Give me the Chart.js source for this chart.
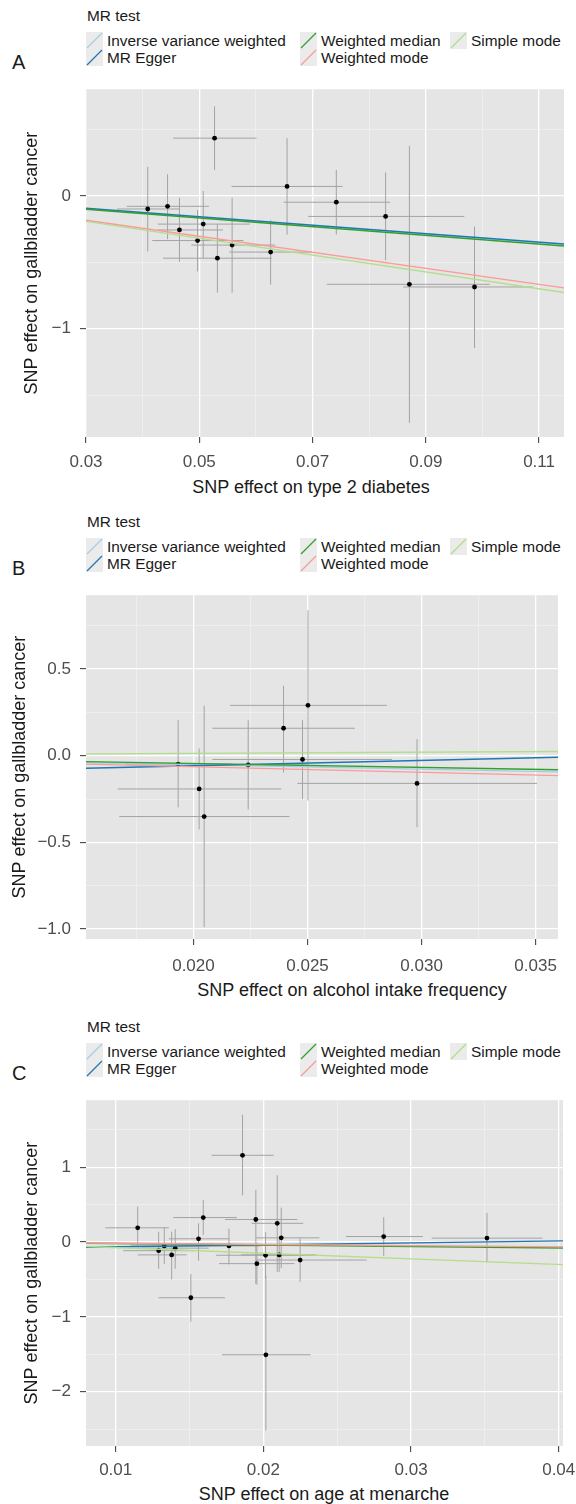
<!DOCTYPE html>
<html>
<head>
<meta charset="utf-8">
<script src="https://cdn.jsdelivr.net/npm/chart.js@4.4.1/dist/chart.umd.min.js"></script>
<style>
  body { margin: 0; background: #fff; width: 576px; height: 1504px; position: relative; overflow: hidden;
         font-family: "Liberation Sans", Arial, sans-serif; color: #1a1a1a; }
  .letter { position: absolute; left: 12px; font-size: 20px; line-height: 20px; }
  .lgtitle { position: absolute; left: 87px; font-size: 15.4px; line-height: 18px; }
  .item { position: absolute; font-size: 15.4px; line-height: 17px; white-space: nowrap; }
  .item svg { position: absolute; left: 0; top: 0; }
  .item span { position: absolute; left: 21px; top: 0; }
  .xtitle { position: absolute; width: 400px; text-align: center; font-size: 18px; line-height: 22px; white-space: nowrap; }
  canvas { position: absolute; left: 0; }
</style>
</head>
<body>
<div id="root"></div>
<script>
// MR methods, shared by the three panels
const methods = ["Inverse variance weighted", "MR Egger", "Weighted median", "Weighted mode", "Simple mode"];
const methodColors = ["#a6cee3", "#1f78b4", "#33a02c", "#fb9a99", "#b2df8a"];

// Panel A: type 2 diabetes
const aSnpX = [0.0409, 0.0444, 0.0465, 0.0497, 0.0507, 0.0527, 0.0532, 0.0558, 0.0626, 0.0655, 0.0742, 0.0829, 0.0871, 0.0986];
const aSnpY = [-0.097, -0.077, -0.255, -0.335, -0.211, 0.437, -0.468, -0.369, -0.422, 0.073, -0.046, -0.153, -0.665, -0.685];
const aXLo = [0.0355, 0.0372, 0.0427, 0.0417, 0.0427, 0.0454, 0.0436, 0.0486, 0.0553, 0.0557, 0.0649, 0.0692, 0.0725, 0.0860];
const aXHi = [0.0465, 0.0517, 0.0542, 0.0578, 0.0589, 0.0601, 0.0628, 0.0634, 0.0699, 0.0753, 0.0837, 0.0968, 0.1013, 0.1089];
const aYLo = [-0.417, -0.325, -0.495, -0.568, -0.470, 0.197, -0.728, -0.728, -0.667, -0.291, -0.289, -0.483, -1.709, -1.146];
const aYHi = [0.221, 0.165, -0.012, -0.104, 0.039, 0.677, -0.211, -0.012, -0.182, 0.437, 0.197, 0.178, 0.379, -0.230];
const aSlopes = [-3.2, -3.2, -3.29, -6.05, -6.35];
const aIntercepts = [0, 0.005, 0, 0, 0];
const aXTicks = [0.03, 0.05, 0.07, 0.09, 0.11];
const aXTickLabels = ["0.03", "0.05", "0.07", "0.09", "0.11"];
const aXMinor = [0.04, 0.06, 0.08, 0.10];
const aYTicks = [0, -1];
const aYTickLabels = ["0", "\u22121"];
const aYMinor = [0.5, -0.5, -1.5];

// Panel B: alcohol intake frequency
const bSnpX = [0.01933, 0.02025, 0.02047, 0.0224, 0.02395, 0.02478, 0.02502, 0.0298];
const bSnpY = [-0.0485, -0.192, -0.351, -0.054, 0.158, -0.022, 0.29, -0.16];
const bXLo = [0.0170, 0.01668, 0.01675, 0.0198, 0.02083, 0.02083, 0.0216, 0.02456];
const bXHi = [0.0217, 0.02385, 0.02421, 0.0250, 0.02708, 0.02871, 0.02848, 0.03506];
const bYLo = [-0.298, -0.426, -0.989, -0.31, -0.097, -0.251, -0.259, -0.412];
const bYHi = [0.204, 0.042, 0.288, 0.204, 0.403, 0.204, 0.838, 0.095];
const bSlopes = [-2.6, 3.04, -2.27, -3.2, 0.67];
const bIntercepts = [0, -0.119, 0, 0, 0];
const bXTicks = [0.020, 0.025, 0.030, 0.035];
const bXTickLabels = ["0.020", "0.025", "0.030", "0.035"];
const bXMinor = [0.0175, 0.0225, 0.0275, 0.0325];
const bYTicks = [0.5, 0, -0.5, -1];
const bYTickLabels = ["0.5", "0.0", "\u22120.5", "\u22121.0"];
const bYMinor = [0.75, 0.25, -0.25, -0.75];

// Panel C: age at menarche
const cSnpX = [0.01149, 0.01291, 0.01329, 0.01379, 0.01403, 0.01509, 0.01561, 0.01593, 0.01767, 0.01859,
               0.01949, 0.01956, 0.02015, 0.02017, 0.02094, 0.02107, 0.02121, 0.02249, 0.02815, 0.03514];
const cSnpY = [0.19, -0.116, -0.052, -0.172, -0.082, -0.745, 0.043, 0.327, -0.052, 1.159,
               0.301, -0.289, -0.177, -1.507, 0.25, -0.172, 0.056, -0.241, 0.073, 0.052];
const cXLo = [0.0093, 0.0105, 0.0110, 0.0115, 0.0118, 0.0129, 0.0136, 0.0139, 0.0155, 0.0165,
              0.0174, 0.0170, 0.0168, 0.0172, 0.0192, 0.0185, 0.0195, 0.0195, 0.0256, 0.0314];
const cXHi = [0.0136, 0.0153, 0.0156, 0.0148, 0.0163, 0.0174, 0.0177, 0.0182, 0.0198, 0.0207,
              0.0223, 0.0221, 0.0235, 0.0232, 0.0227, 0.0236, 0.0238, 0.0270, 0.0308, 0.0389];
const cYLo = [-0.043, -0.358, -0.293, -0.5, -0.358, -1.063, -0.25, 0.095, -0.3, 0.624,
              -0.56, -0.568, -0.49, -2.519, -0.4, -0.40, -0.35, -0.53, -0.185, -0.271];
const cYHi = [0.474, 0.138, 0.194, 0.138, 0.172, -0.43, 0.25, 0.56, 0.18, 1.7,
              0.698, -0.009, 0.13, -0.452, 0.892, 0.06, 0.46, 0.05, 0.332, 0.388];
const cSlopes = [-1.7, 2.6, -2.0, -1.6, -7.5];
const cIntercepts = [0, -0.09, 0, 0, 0];
const cXTicks = [0.01, 0.02, 0.03, 0.04];
const cXTickLabels = ["0.01", "0.02", "0.03", "0.04"];
const cXMinor = [0.015, 0.025, 0.035];
const cYTicks = [1, 0, -1, -2];
const cYTickLabels = ["1", "0", "\u22121", "\u22122"];
const cYMinor = [1.5, 0.5, -0.5, -1.5, -2.5];

const panels = [
  { letter: "A", xTitle: "SNP effect on type 2 diabetes",
    x: aSnpX, y: aSnpY, xLo: aXLo, xHi: aXHi, yLo: aYLo, yHi: aYHi, slopes: aSlopes, ints: aIntercepts,
    xTicks: aXTicks, xLabels: aXTickLabels, xMinor: aXMinor, yTicks: aYTicks, yLabels: aYTickLabels, yMinor: aYMinor,
    xMin: 0.03, xMax: 0.1144, yMin: -1.816, yMax: 0.806,
    top: 0, plotTop: 77, plotBottom: 437, plotRight: 564, tickY: 462, titleY: 487, titleX: 311, yTitleX: 32 },
  { letter: "B", xTitle: "SNP effect on alcohol intake frequency",
    x: bSnpX, y: bSnpY, xLo: bXLo, xHi: bXHi, yLo: bYLo, yHi: bYHi, slopes: bSlopes, ints: bIntercepts,
    xTicks: bXTicks, xLabels: bXTickLabels, xMinor: bXMinor, yTicks: bYTicks, yLabels: bYTickLabels, yMinor: bYMinor,
    xMin: 0.01529, xMax: 0.03598, yMin: -1.057, yMax: 0.925,
    top: 506, plotTop: 583, plotBottom: 939, plotRight: 558, tickY: 966, titleY: 990, titleX: 352, yTitleX: 20 },
  { letter: "C", xTitle: "SNP effect on age at menarche",
    x: cSnpX, y: cSnpY, xLo: cXLo, xHi: cXHi, yLo: cYLo, yHi: cYHi, slopes: cSlopes, ints: cIntercepts,
    xTicks: cXTicks, xLabels: cXTickLabels, xMinor: cXMinor, yTicks: cYTicks, yLabels: cYTickLabels, yMinor: cYMinor,
    xMin: 0.00799, xMax: 0.04029, yMin: -2.726, yMax: 1.895,
    top: 1011, plotTop: 1088, plotBottom: 1446, plotRight: 563, tickY: 1470, titleY: 1494, titleX: 324, yTitleX: 32 },
];

const FONT = "'Liberation Sans', Arial, sans-serif";
const TICK_SIZE = 17, TITLE_SIZE = 18, TICK_LEN = 6;
const root = document.getElementById("root");

const panelBg = {
  id: "panelBg",
  beforeDraw(chart) {
    const { ctx, chartArea: a } = chart;
    ctx.save();
    ctx.fillStyle = "#e5e5e5";
    ctx.fillRect(a.left, a.top, a.right - a.left, a.bottom - a.top);
    ctx.restore();
  },
};

function isIn(list, v) {
  return list.findIndex((m) => Math.abs(m - v) < 1e-9);
}

function addText(p) {
  const t = p.top;
  root.insertAdjacentHTML("beforeend",
    `<div class="letter" style="top:${t + 52}px">${p.letter}</div>` +
    `<div class="lgtitle" style="top:${t + 7}px">MR test</div>` +
    `<div class="xtitle" style="left:${p.titleX - 200}px;top:${p.titleY - 11}px">${p.xTitle}</div>`);
  const cols = [86, 300, 450];
  const slots = [[0, 0], [0, 1], [1, 0], [1, 1], [2, 0]];
  methods.forEach((m, i) => {
    const [c, r] = slots[i];
    root.insertAdjacentHTML("beforeend",
      `<div class="item" style="left:${cols[c]}px;top:${t + 32 + r * 17}px">` +
      `<svg width="17" height="17"><rect width="17" height="17" fill="#ebebeb"/>` +
      `<line x1="1" y1="16" x2="16" y2="1" stroke="${methodColors[i]}" stroke-width="1.3"/></svg>` +
      `<span>${m}</span></div>`);
  });
}

function makeScale(p, axis) {
  const majors = axis === "x" ? p.xTicks : p.yTicks;
  const labels = axis === "x" ? p.xLabels : p.yLabels;
  const minors = axis === "x" ? p.xMinor : p.yMinor;
  return {
    type: "linear",
    min: axis === "x" ? p.xMin : p.yMin,
    max: axis === "x" ? p.xMax : p.yMax,
    afterBuildTicks: (s) => {
      s.ticks = majors.concat(minors).map((v) => ({ value: v }));
    },
    border: { display: false },
    grid: {
      color: (c) => (isIn(majors, c.tick.value) >= 0 ? "#ffffff" : "#f2f2f2"),
      lineWidth: (c) => (isIn(majors, c.tick.value) >= 0 ? 1.3 : 0.7),
      tickColor: (c) => (isIn(majors, c.tick.value) >= 0 ? "#333333" : "rgba(0,0,0,0)"),
      tickWidth: 1,
      tickLength: TICK_LEN,
    },
    ticks: {
      autoSkip: false,
      maxRotation: 0,
      color: "#4d4d4d",
      font: { family: FONT, size: TICK_SIZE },
      callback: (v) => {
        const k = isIn(majors, v);
        return k >= 0 ? labels[k] : "";
      },
    },
  };
}

function addChart(p) {
  const canvasTop = p.plotTop - 7;
  const canvasH = p.tickY + 16 - canvasTop;
  const cv = document.createElement("canvas");
  cv.width = 576;
  cv.height = canvasH;
  cv.style.top = canvasTop + "px";
  root.appendChild(cv);

  const lh = TICK_SIZE * 1.2;
  const xs = makeScale(p, "x");
  xs.ticks.padding = p.tickY - p.plotBottom - TICK_LEN - lh / 2;
  xs.afterFit = (s) => { s.height = canvasH - (p.plotBottom - canvasTop); };

  const ys = makeScale(p, "y");
  ys.ticks.padding = 9;
  ys.title = { display: true, text: "SNP effect on gallbladder cancer", color: "#1a1a1a",
               font: { family: FONT, size: TITLE_SIZE },
               padding: { top: p.yTitleX - TITLE_SIZE * 0.6, bottom: 0 } };
  ys.afterFit = (s) => { s.width = 86; };

  const datasets = [];
  // fitted MR lines, drawn on top
  methods.forEach((m, i) => {
    datasets.push({
      label: m,
      type: "line",
      data: [p.xMin, p.xMax].map((xv) => ({ x: xv, y: p.ints[i] + p.slopes[i] * xv })),
      borderColor: methodColors[i],
      borderWidth: 1.4,
      pointRadius: 0,
      order: 0.5 - i * 0.1,
    });
  });
  datasets.push({
    label: "SNPs",
    type: "scatter",
    data: p.x.map((xv, i) => ({ x: xv, y: p.y[i] })),
    backgroundColor: "#000",
    borderWidth: 0,
    pointRadius: 2.4,
    order: 1,
  });
  p.x.forEach((xv, i) => {
    datasets.push({
      type: "line", data: [{ x: p.xLo[i], y: p.y[i] }, { x: p.xHi[i], y: p.y[i] }],
      borderColor: "#a3a3a3", borderWidth: 1, pointRadius: 0, order: 2,
    });
    datasets.push({
      type: "line", data: [{ x: xv, y: p.yLo[i] }, { x: xv, y: p.yHi[i] }],
      borderColor: "#a3a3a3", borderWidth: 1, pointRadius: 0, order: 2,
    });
  });

  new Chart(cv.getContext("2d"), {
    type: "scatter",
    data: { datasets },
    options: {
      responsive: false,
      animation: false,
      devicePixelRatio: 1,
      layout: { padding: { top: 7, left: 0, right: 576 - p.plotRight, bottom: 0 } },
      plugins: { legend: { display: false }, tooltip: { enabled: false } },
      scales: { x: xs, y: ys },
    },
    plugins: [panelBg],
  });
}

panels.forEach((p) => {
  addText(p);
  addChart(p);
});
</script>
</body>
</html>
